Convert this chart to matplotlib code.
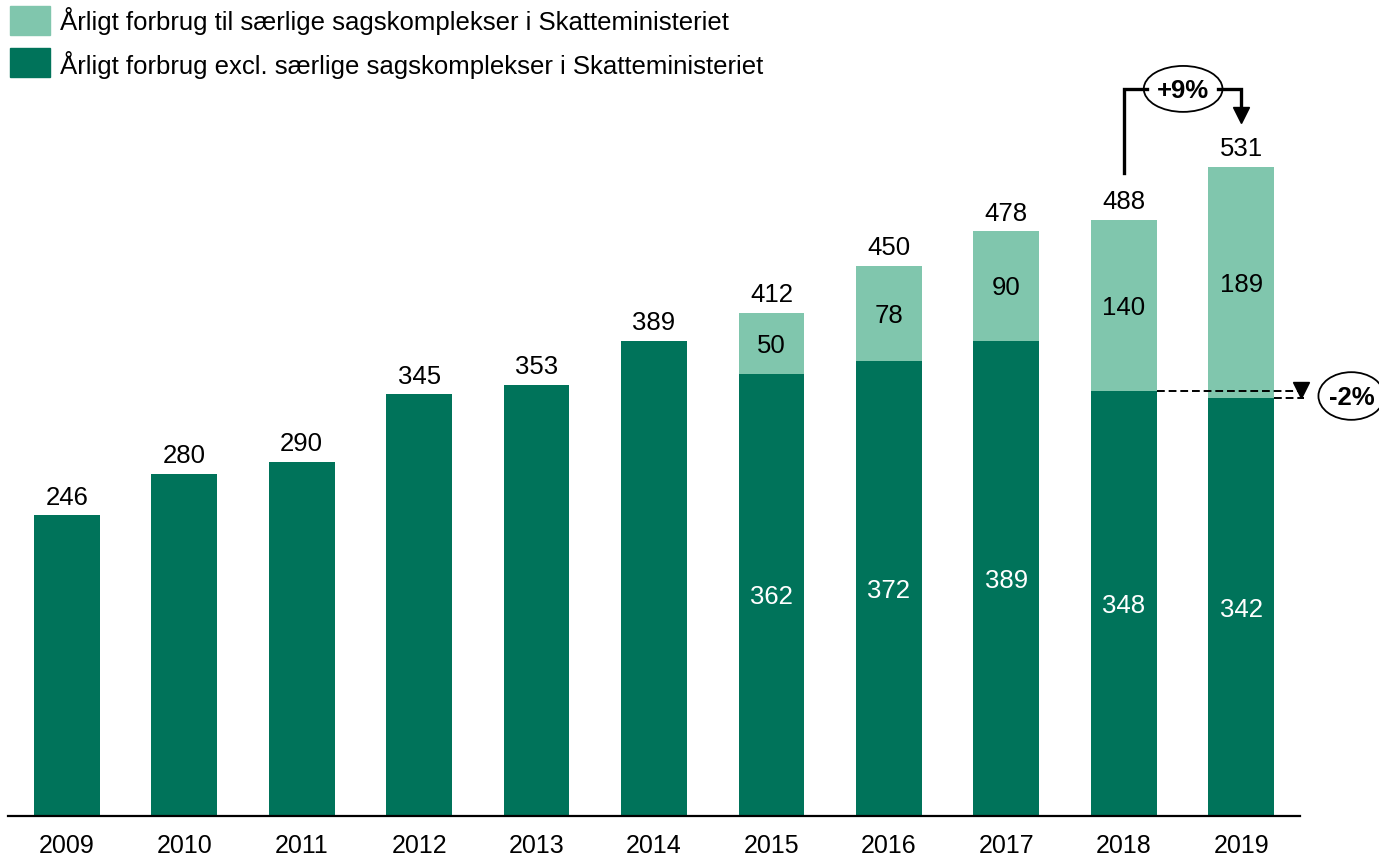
import numpy as np
import matplotlib.pyplot as plt
from matplotlib.patches import Ellipse, Rectangle

plt.rcParams['font.family'] = ['Liberation Sans', 'DejaVu Sans']

years = ['2009', '2010', '2011', '2012', '2013', '2014', '2015', '2016', '2017', '2018', '2019']
base = [246, 280, 290, 345, 353, 389, 362, 372, 389, 348, 342]
special = [0, 0, 0, 0, 0, 0, 50, 78, 90, 140, 189]
totals = [246, 280, 290, 345, 353, 389, 412, 450, 478, 488, 531]
legend_labels = ['Årligt forbrug til særlige sagskomplekser i Skatteministeriet',
                 'Årligt forbrug excl. særlige sagskomplekser i Skatteministeriet']

dark = '#00735A'
light = '#80C6AD'

W, H = 1379, 857
fig = plt.figure(figsize=(W / 100, H / 100), dpi=100)
ax = fig.add_axes([8 / W, 41 / H, 1292 / W, 816 / H])

x = np.arange(len(years))
bw = 0.56
ax.bar(x, base, bw, color=dark)
ax.bar(x, special, bw, bottom=base, color=light)

# value labels
fs = 18.5
for i in range(len(years)):
    ax.text(x[i], totals[i] + 8.8, str(totals[i]), ha='center', va='baseline', fontsize=fs)
    if special[i] > 0:
        ax.text(x[i], base[i] / 2, str(base[i]), ha='center', va='center_baseline',
                fontsize=fs, color='white')
        ax.text(x[i], base[i] + special[i] / 2, str(special[i]), ha='center',
                va='center_baseline', fontsize=fs)

ax.set_xlim(-0.5, 10.5)
ax.set_ylim(0, 816 / 1.222)
for s in ['top', 'right', 'left']:
    ax.spines[s].set_visible(False)
ax.spines['bottom'].set_linewidth(1.6)
ax.set_yticks([])
ax.set_xticks(x)
ax.set_xticklabels(years, fontsize=18)
ax.tick_params(axis='x', length=0, pad=13)

# +9% bracket
lw = 2.4
ax.plot([9, 9, 9.2], [526, 595, 595], color='black', lw=lw, clip_on=False, solid_joinstyle='miter')
ax.plot([9.8, 10, 10], [595, 595, 578], color='black', lw=lw, clip_on=False, solid_joinstyle='miter')
ax.plot([10], [574], marker='v', color='black', markersize=11, clip_on=False)
ax.add_patch(Ellipse((9.505, 595), 0.67, 37.6, facecolor='white', edgecolor='black', lw=1.3, clip_on=False))
ax.text(9.505, 595, '+9%', ha='center', va='center_baseline', fontsize=fs, fontweight='bold')

# -2% marker
ax.plot([9 + bw / 2, 10.57], [348, 348], color='black', lw=1.4, ls=(0, (4, 2)), clip_on=False)
ax.plot([10 + bw / 2, 10.53], [342, 342], color='black', lw=1.4, ls=(0, (4, 2)), clip_on=False)
ax.plot([10.51], [348.6], marker='v', color='black', markersize=11, clip_on=False)
ax.add_patch(Ellipse((10.937, 343.7), 0.56, 39, facecolor='white', edgecolor='black', lw=1.3, clip_on=False))
ax.text(10.937, 343.7, '-2%', ha='center', va='center_baseline', fontsize=fs, fontweight='bold')

# legend
squares = [(light, 6, 29), (dark, 48, 29)]
baselines = [30, 74]
for j, lab in enumerate(legend_labels):
    c, top, h = squares[j]
    fig.patches.append(Rectangle((10 / W, 1 - (top + h) / H), 40 / W, h / H,
                                 transform=fig.transFigure, color=c))
    fig.text(60 / W, 1 - baselines[j] / H, lab, ha='left', va='baseline', fontsize=18.5)

fig.savefig('out.png', dpi=100)
